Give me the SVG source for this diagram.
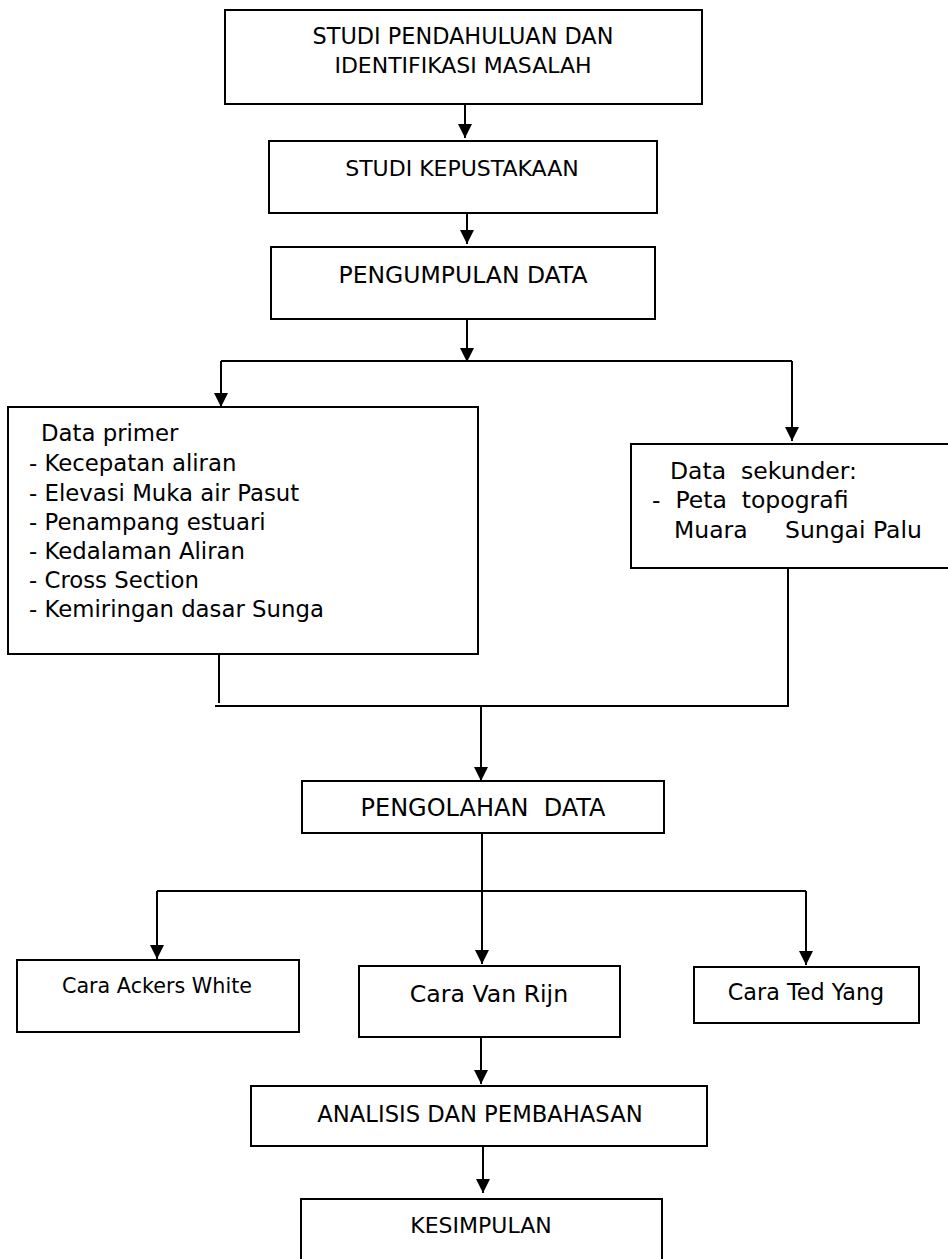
<svg xmlns="http://www.w3.org/2000/svg" width="948" height="1259" viewBox="0 0 948 1259">
<style>
  .box { fill: #ffffff; stroke: #000000; stroke-width: 2; }
  .t { font-family: "DejaVu Sans", "Liberation Sans", sans-serif; font-size: 22px; fill: #000000; white-space: pre; }
  .l { font-size: 23.5px; }
  .p { font-size: 22.8px; }
  .c { text-anchor: middle; }
  .ln { fill: none; stroke: #000000; stroke-width: 2; }
  .ar { fill: none; stroke: #000000; stroke-width: 2; marker-end: url(#arrow); }
</style>
<defs>
  <marker id="arrow" viewBox="0 0 14 14" refX="14" refY="7" markerWidth="14" markerHeight="14" markerUnits="userSpaceOnUse" orient="auto">
    <path d="M0,0 L14,7 L0,14 Z" fill="#000000"/>
  </marker>
</defs>
<rect x="0" y="0" width="948" height="1259" fill="#ffffff"/>

<g id="connectors">
  <path class="ar" d="M465,104 V138"/>
  <path class="ar" d="M467,213 V244"/>
  <path class="ar" d="M467,319 V362"/>
  <path class="ln" d="M221,361 H792"/>
  <path class="ar" d="M221,361 V407"/>
  <path class="ar" d="M792,361 V441"/>
  <path class="ln" d="M219,654 V703"/>
  <path class="ln" d="M788,568 V706"/>
  <path class="ln" d="M215,706 H789"/>
  <path class="ar" d="M481,706 V781"/>
  <path class="ar" d="M482,833 V964"/>
  <path class="ln" d="M157,891 H806"/>
  <path class="ar" d="M157,891 V959"/>
  <path class="ar" d="M806,891 V965"/>
  <path class="ar" d="M481,1037 V1084"/>
  <path class="ar" d="M483,1146 V1193"/>
</g>

<g id="studi-pendahuluan">
  <rect class="box" x="225" y="10" width="477" height="94"/>
  <text class="t c" x="463" y="44" style="font-size:22.4px">STUDI PENDAHULUAN DAN</text>
  <text class="t c" x="463" y="73">IDENTIFIKASI MASALAH</text>
</g>

<g id="studi-kepustakaan">
  <rect class="box" x="269" y="141" width="388" height="72"/>
  <text class="t c" x="462" y="176">STUDI KEPUSTAKAAN</text>
</g>

<g id="pengumpulan-data">
  <rect class="box" x="271" y="247" width="384" height="72"/>
  <text class="t c" x="463" y="283" style="font-size:23.5px">PENGUMPULAN DATA</text>
</g>

<g id="data-primer">
  <rect class="box" x="8" y="407" width="470" height="247"/>
  <text class="t p" x="41" y="441">Data primer</text>
  <text class="t p" x="29" y="471">- Kecepatan aliran</text>
  <text class="t p" x="29" y="501">- Elevasi Muka air Pasut</text>
  <text class="t p" x="29" y="530">- Penampang estuari</text>
  <text class="t p" x="29" y="559">- Kedalaman Aliran</text>
  <text class="t p" x="29" y="588">- Cross Section</text>
  <text class="t p" x="29" y="617">- Kemiringan dasar Sunga</text>
</g>

<g id="data-sekunder">
  <rect class="box" x="631" y="444" width="322" height="124"/>
  <text class="t l" x="670" y="479">Data  sekunder:</text>
  <text class="t l" x="652" y="508">-  Peta  topografi</text>
  <text class="t l" x="674" y="538">Muara     Sungai Palu</text>
</g>

<g id="pengolahan-data">
  <rect class="box" x="302" y="781" width="362" height="52"/>
  <text class="t c" x="483" y="816" style="font-size:24px">PENGOLAHAN  DATA</text>
</g>

<g id="cara-ackers-white">
  <rect class="box" x="17" y="960" width="282" height="72"/>
  <text class="t c" x="157" y="993" style="font-size:20.7px">Cara Ackers White</text>
</g>

<g id="cara-van-rijn">
  <rect class="box" x="359" y="966" width="261" height="71"/>
  <text class="t c" x="489" y="1002" style="font-size:23.6px">Cara Van Rijn</text>
</g>

<g id="cara-ted-yang">
  <rect class="box" x="694" y="967" width="225" height="56"/>
  <text class="t c" x="806" y="1000" style="font-size:22.3px">Cara Ted Yang</text>
</g>

<g id="analisis">
  <rect class="box" x="251" y="1086" width="456" height="60"/>
  <text class="t c" x="480" y="1122" style="font-size:22.7px">ANALISIS DAN PEMBAHASAN</text>
</g>

<g id="kesimpulan">
  <rect class="box" x="301" y="1199" width="361" height="70"/>
  <text class="t c" x="481" y="1233">KESIMPULAN</text>
</g>
</svg>
